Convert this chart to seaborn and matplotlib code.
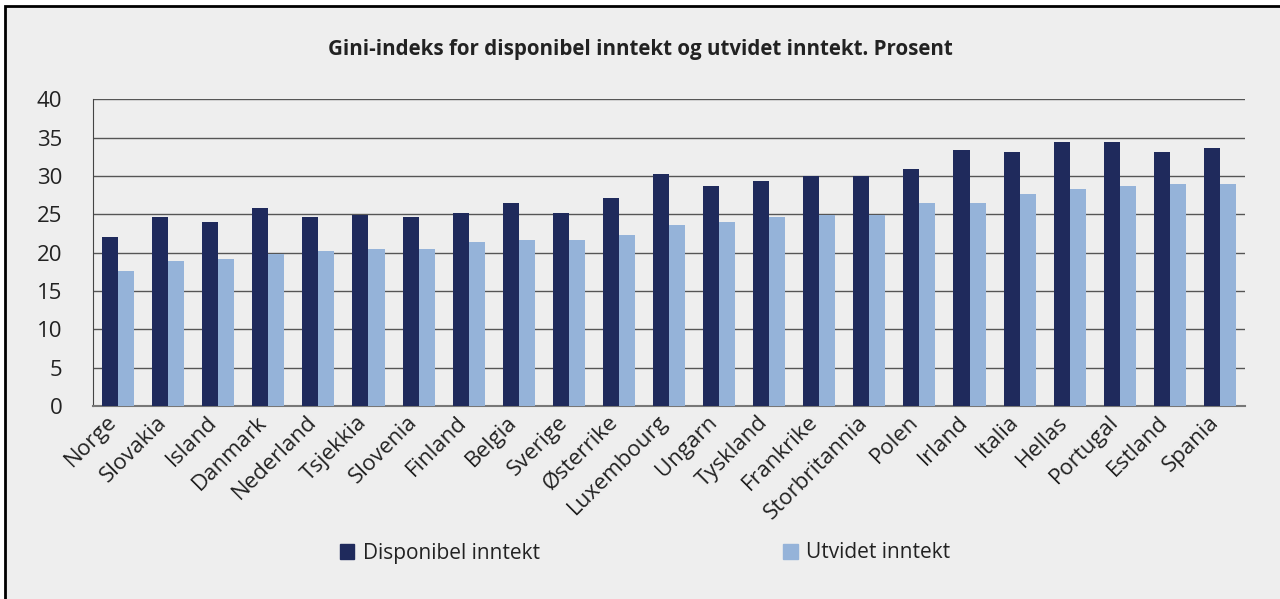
import matplotlib
matplotlib.use('Agg')
import matplotlib.pyplot as plt
import matplotlib.patches as mpatches
import matplotlib.transforms as mtransforms
import seaborn as sns
import pandas as pd

countries = ['Norge', 'Slovakia', 'Island', 'Danmark', 'Nederland', 'Tsjekkia',
             'Slovenia', 'Finland', 'Belgia', 'Sverige', 'Østerrike', 'Luxembourg',
             'Ungarn', 'Tyskland', 'Frankrike', 'Storbritannia', 'Polen', 'Irland',
             'Italia', 'Hellas', 'Portugal', 'Estland', 'Spania']
disponibel = [22.0, 24.6, 24.0, 25.8, 24.6, 24.9, 24.6, 25.2, 26.5, 25.2, 27.1, 30.3,
              28.7, 29.3, 30.0, 30.0, 30.9, 33.4, 33.1, 34.4, 34.4, 33.1, 33.7]
utvidet = [17.6, 18.9, 19.2, 19.8, 20.2, 20.5, 20.5, 21.4, 21.7, 21.7, 22.3, 23.6,
           24.0, 24.6, 24.9, 24.9, 26.5, 26.5, 27.7, 28.3, 28.7, 29.0, 29.0]
series = ['Disponibel inntekt', 'Utvidet inntekt']
colors = {'Disponibel inntekt': '#1f2a5c', 'Utvidet inntekt': '#95b3d9'}

df = pd.concat([
    pd.DataFrame({'Land': countries, 'Verdi': disponibel, 'Serie': series[0]}),
    pd.DataFrame({'Land': countries, 'Verdi': utvidet, 'Serie': series[1]}),
])

sns.set_style('white')
plt.rcParams['font.family'] = ['Open Sans', 'DejaVu Sans']

BG = '#eeeeee'
fig = plt.figure(figsize=(12.8, 5.99), dpi=100, facecolor='white')
fig.patches.append(mpatches.Rectangle((5 / 1280, -0.05), 1.1, 1 - 6 / 599 + 0.05,
                                      transform=fig.transFigure, facecolor=BG,
                                      edgecolor='black', linewidth=2, zorder=-10))
ax = fig.add_axes([93 / 1280, 1 - 406 / 599, (1245 - 93) / 1280, (406 - 99.3) / 599])
ax.set_facecolor(BG)

sns.barplot(data=df, x='Land', y='Verdi', hue='Serie', palette=colors,
            width=0.64, ax=ax, legend=False, saturation=1, linewidth=0, zorder=3)

ax.set_ylim(0, 40)
ax.set_yticks(range(0, 41, 5))
ax.set_xlim(-0.5, len(countries) - 0.5)
ax.yaxis.grid(True, color='#555555', linewidth=1, zorder=0)
ax.set_axisbelow(True)
for s in ['top', 'right']:
    ax.spines[s].set_visible(False)
ax.spines['left'].set_color('#444444')
ax.spines['bottom'].set_color('#777777')
ax.spines['bottom'].set_linewidth(1.5)
ax.tick_params(axis='y', length=0, labelsize=16, colors='#222222', pad=22)
ax.tick_params(axis='x', length=0, labelsize=16, colors='#222222', pad=4)
shift = mtransforms.ScaledTranslation(-12 / 100, 0, fig.dpi_scale_trans)
for lab in ax.get_xticklabels():
    lab.set_rotation(45)
    lab.set_ha('right')
    lab.set_rotation_mode('anchor')
    lab.set_transform(lab.get_transform() + shift)
ax.set_xlabel('')
ax.set_ylabel('')

fig.text(0.5, 1 - 50 / 599, 'Gini-indeks for disponibel inntekt og utvidet inntekt. Prosent',
         ha='center', va='center', fontsize=14.8, fontweight='bold', color='#222222')

handles = [mpatches.Patch(color=colors[s], label=s) for s in series]
fig.legend(handles=handles, loc='center', bbox_to_anchor=(0.504, 1 - 553 / 599), ncol=2,
           frameon=False, fontsize=15, handlelength=0.7, handleheight=0.7,
           handletextpad=0.4, columnspacing=11.7, labelcolor='#222222')

fig.savefig('out.png', dpi=100, facecolor=fig.get_facecolor())
